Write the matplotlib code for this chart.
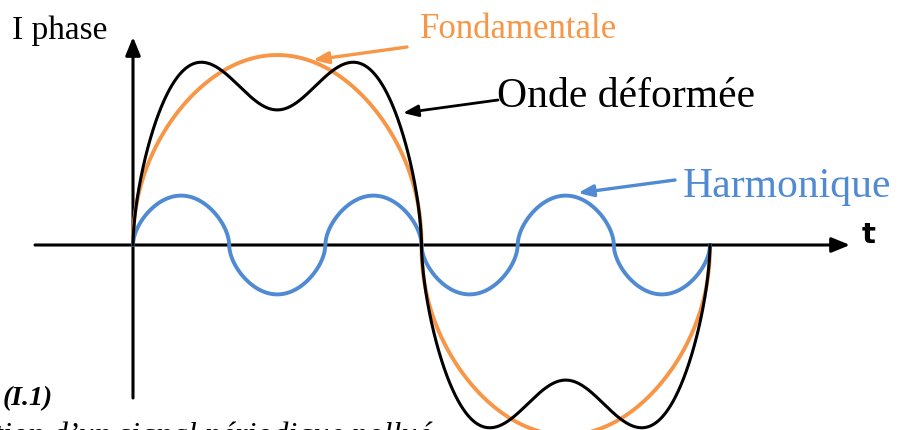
import numpy as np
import matplotlib
matplotlib.use("Agg")
import matplotlib.pyplot as plt

# Waveform description (one period of the fundamental = 1 time unit)
fund_amp = 1.0          # fundamental peak
fund_shape = 0.47       # how "round" the drawn half waves are
harm_order = 3          # harmonic rank
harm_amp = 0.26         # harmonic peak (relative to fundamental)
harm_shape = 0.55
wave_amp = 0.966        # distorted wave
wave_mix = 0.40         # harmonic weight inside the distorted wave
wave_shape = 0.6
t_end = 1.0

labels = ["Fondamentale", "Onde déformée", "Harmonique"]
c_fund = "#F79646"
c_harm = "#4F8AD2"

W, H = 899, 430
ox, oy = 133, 245        # origin in pixels
px_per_t = 577
px_per_amp = 190


def fx(x):
    return x / W


def fy(y):
    return 1 - y / H


def shaped(s, p):
    return np.sign(s) * np.abs(s) ** p


t = np.linspace(0, t_end, 4000)
s1 = np.sin(2 * np.pi * t)
s3 = np.sin(2 * np.pi * harm_order * t)
fund = fund_amp * shaped(s1, fund_shape)
harm = harm_amp * shaped(s3, harm_shape)
wave = wave_amp * shaped(s1 + wave_mix * s3, wave_shape)

fig = plt.figure(figsize=(W / 100, H / 100), dpi=100)
ax = fig.add_axes([0, 0, 1, 1])
ax.set_xlim(-ox / px_per_t, (W - ox) / px_per_t)
ax.set_ylim(-(H - oy) / px_per_amp, oy / px_per_amp)
ax.axis("off")

# axes with arrows
arr = dict(arrowstyle="-|>,head_length=1.1,head_width=0.45", color="black",
           lw=2.2, shrinkA=0, shrinkB=0)
ax.annotate("", xy=(850 / W, fy(oy)), xytext=(35 / W, fy(oy)),
            xycoords="figure fraction", arrowprops=arr)
ax.annotate("", xy=(fx(ox), fy(37)), xytext=(fx(ox), fy(398)),
            xycoords="figure fraction", arrowprops=arr)

ax.plot(t, fund, color=c_fund, lw=2.8, zorder=3)
ax.plot(t, harm, color=c_harm, lw=2.8, zorder=3)
ax.plot(t, wave, color="black", lw=2.2, zorder=4)

serif = "Liberation Serif"
ax.text(fx(12), fy(39), "I phase", transform=fig.transFigure, family=serif,
        fontsize=24, va="baseline", ha="left")
ax.text(fx(862), fy(243), "t", transform=fig.transFigure, family="DejaVu Sans",
        fontweight="bold", fontsize=21, va="baseline", ha="left")

ax.text(fx(420), fy(38), labels[0], transform=fig.transFigure, family=serif,
        fontsize=25, color=c_fund, va="baseline", ha="left")
ax.text(fx(497), fy(107), labels[1], transform=fig.transFigure, family=serif,
        fontsize=30, color="black", va="baseline", ha="left")
ax.text(fx(683), fy(197), labels[2], transform=fig.transFigure, family=serif,
        fontsize=30, color=c_harm, va="baseline", ha="left")

def pointer(x0, y0, x1, y1, color, lw):
    ax.annotate("", xy=(fx(x1), fy(y1)), xytext=(fx(x0), fy(y0)),
                xycoords="figure fraction",
                arrowprops=dict(arrowstyle="-|>,head_length=0.9,head_width=0.35",
                                color=color, lw=lw, shrinkA=0, shrinkB=0))

pointer(407, 47, 313, 60, c_fund, 2.4)
pointer(498, 100, 403, 113, "black", 2.0)
pointer(675, 180, 578, 193, c_harm, 2.4)

# caption (cropped in the original)
ax.text(fx(3), fy(405), "(I.1)", transform=fig.transFigure, family=serif,
        fontsize=20, fontweight="bold", style="italic", va="baseline", ha="left")
ax.text(fx(432), fy(444), "Représentation d\u2019un signal périodique pollué",
        transform=fig.transFigure, family=serif, fontsize=23, style="italic",
        va="baseline", ha="right")

fig.savefig("out.png", dpi=100)
